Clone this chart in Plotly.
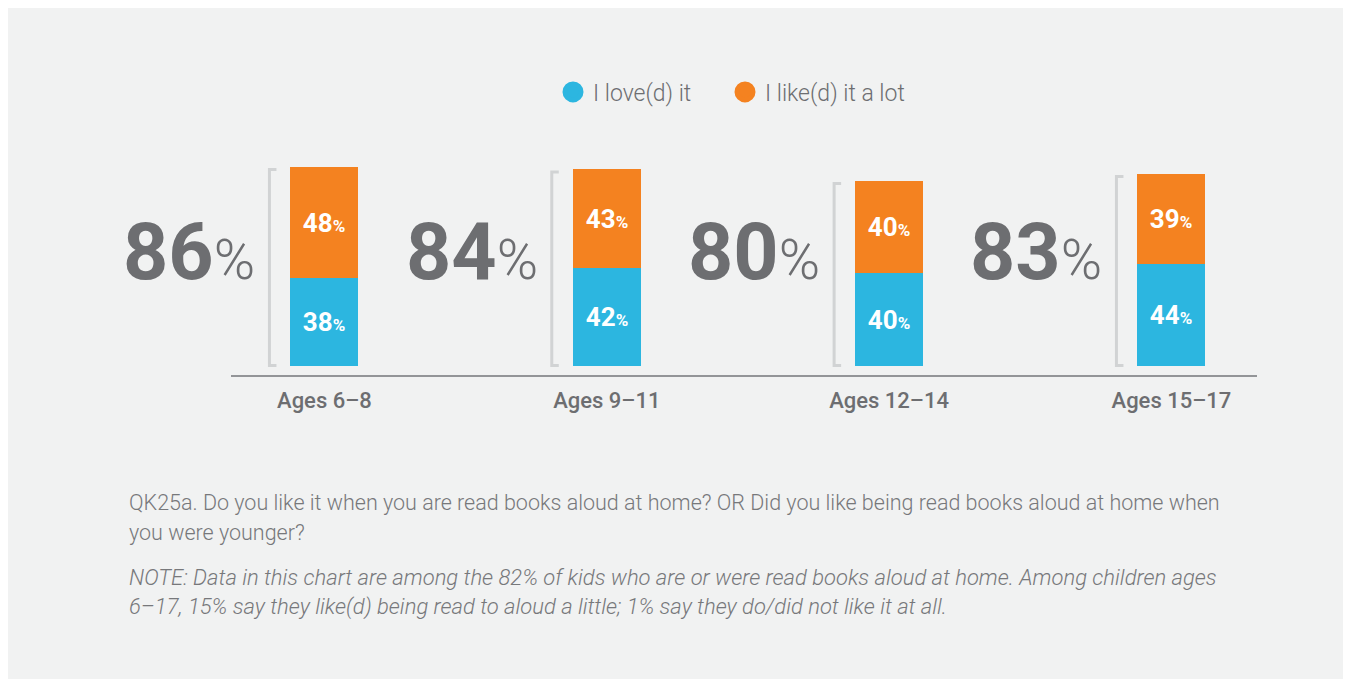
import plotly.graph_objects as go

categories = ["Ages 6–8", "Ages 9–11", "Ages 12–14", "Ages 15–17"]
loved = [38, 42, 40, 44]
liked_lot = [48, 43, 40, 39]
totals = [86, 84, 80, 83]
series_names = ["I love(d) it", "I like(d) it a lot"]

BLUE = "#2cb6e0"
ORANGE = "#f48220"
GRAY = "#6d6e71"
LIGHT = "#77787b"
FONT = "Roboto"

# page body margin of 8px is the reference's white border
OFF = 8
W, H = 1351 - OFF, 679 - OFF
AXIS_Y = 375 - OFF          # axis line (figure px)
L, R = 231 - OFF, 94
T = 140 - OFF
B = H - AXIS_Y
PW, PH = W - L - R, H - T - B


def px(x):
    """reference screen x -> paper"""
    return (x - OFF - L) / PW


def py(y):
    """reference screen y -> paper"""
    return (AXIS_Y - (y - OFF)) / PH


fig = go.Figure()
pct = "<span style='font-size:17px'>%</span>"
legends = ["legend", "legend2"]
for i, (vals, name, col) in enumerate([(loved, series_names[0], BLUE),
                                       (liked_lot, series_names[1], ORANGE)]):
    fig.add_trace(go.Bar(
        x=categories, y=vals, name=name, marker=dict(color=col, line=dict(width=0)),
        width=0.241, showlegend=False,
        text=[f"<b>{v}</b><b>{pct}</b>" for v in vals],
        textposition="inside", insidetextanchor="middle", textangle=0,
        constraintext="none",
        textfont=dict(family=FONT, size=26, color="white"),
        hoverinfo="skip",
    ))
    fig.add_trace(go.Scatter(
        x=[None], y=[None], mode="markers", name=name, legend=legends[i],
        marker=dict(color=col, size=16, symbol="circle", line=dict(color=col, width=5)),
        showlegend=True,
    ))

shapes = []
annotations = []
for cat, a, b, tot in zip(categories, loved, liked_lot, totals):
    top = a + b - 1.2
    shapes.append(dict(type="path", xref="x", yref="y", xsizemode="pixel", xanchor=cat,
                       path=f"M -48,{top} L -55,{top} L -55,0 L -48,0",
                       line=dict(color="#d1d3d4", width=3), layer="below"))
    annotations.append(dict(
        x=cat, xref="x", y=py(252), yref="paper", xanchor="right", yanchor="middle",
        xshift=-67, showarrow=False,
        text=f"<b>{tot}</b><span style='font-size:56px;font-weight:300'>%</span>",
        font=dict(family=FONT, size=79, color=GRAY),
    ))

notes = [
    ("QK25a. Do you like it when you are read books aloud at home? OR Did you like being read books aloud at home when", 502, 21.5),
    ("you were younger?", 532, 21.5),
    ("<i>NOTE: Data in this chart are among the 82% of kids who are or were read books aloud at home. Among children ages</i>", 577, 22),
    ("<i>6–17, 15% say they like(d) being read to aloud a little; 1% say they do/did not like it at all.</i>", 607, 22),
]
for txt, yy, fs in notes:
    annotations.append(dict(
        x=px(127), y=py(yy), xref="paper", yref="paper", xanchor="left", yanchor="middle",
        showarrow=False, text=txt, font=dict(family=FONT, size=fs, color=LIGHT, weight=300),
    ))

leg_common = dict(orientation="h", xanchor="left", y=py(92), yanchor="middle",
                  font=dict(family=FONT, size=23, color=GRAY, weight=300),
                  bgcolor="rgba(0,0,0,0)", itemwidth=30)

fig.update_layout(
    width=W, height=H,
    margin=dict(l=L, r=R, t=T, b=B, pad=0),
    paper_bgcolor="#f1f2f2", plot_bgcolor="rgba(0,0,0,0)",
    barmode="stack", bargap=0,
    showlegend=True,
    legend=dict(x=px(573 - 20), **leg_common),
    legend2=dict(x=px(745 - 20), **leg_common),
    xaxis=dict(type="category", range=[-0.331, 3.303], showline=True, linecolor="#939598",
               linewidth=2, showgrid=False, zeroline=False, ticks="",
               ticklabelstandoff=5,
               tickfont=dict(family=FONT, size=22, color=GRAY, weight=500),
               fixedrange=True),
    yaxis=dict(range=[-4.11, 97.6], visible=False, showgrid=False, zeroline=False,
               fixedrange=True),
    shapes=shapes, annotations=annotations,
    font=dict(family=FONT, color=GRAY),
)

fig.write_html("out.html")
